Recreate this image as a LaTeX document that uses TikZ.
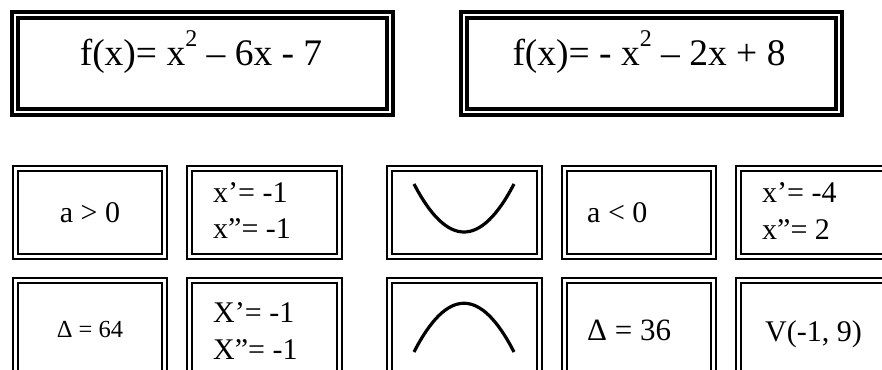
\documentclass[tikz,border=0pt]{standalone}
\usepackage{fontspec}
\setmainfont{Liberation Serif}
\begin{document}
\begin{tikzpicture}[x=1pt,y=-1pt,
  bigbox/.style={draw, double, line width=3.8pt, double distance=2.5pt, inner sep=0pt, minimum width=375pt, minimum height=97pt},
  smallbox/.style={draw, double, line width=2pt, double distance=3pt, inner sep=0pt},
  rowA/.style={smallbox, minimum height=88pt},
  rowB/.style={smallbox, minimum height=106pt},
  bigtxt/.style={inner sep=0pt, font=\fontsize{37.5}{40}\selectfont, anchor=base},
  txt/.style={inner sep=0pt, font=\fontsize{30}{33}\selectfont, anchor=base west},
  ctxt/.style={inner sep=0pt, font=\fontsize{30}{33}\selectfont, anchor=base},
  curve/.style={line width=3.2pt}]
\useasboundingbox (0,0) rectangle (882,369);
% top boxes
\node[bigbox] (f1) at (202.5,63.5) {};
\node[bigbox] (f2) at (651.5,63.5) {};
\node[bigtxt] (t1) at (201,65) {f(x)= x\raisebox{18pt}{\fontsize{24}{24}\selectfont 2} – 6x - 7};
\node[bigtxt] (t2) at (649,65) {f(x)= - x\raisebox{18pt}{\fontsize{24}{24}\selectfont 2} – 2x + 8};
% row A
\node[rowA, minimum width=149pt] (a1) at (90,212.5) {};
\node[rowA, minimum width=150pt] (a2) at (264.5,212.5) {};
\node[rowA, minimum width=150pt] (a3) at (464.5,212.5) {};
\node[rowA, minimum width=149pt] (a4) at (639,212.5) {};
\node[rowA, minimum width=150pt] (a5) at (813.5,212.5) {};
% row B
\node[rowB, minimum width=149pt] (b1) at (90,333.5) {};
\node[rowB, minimum width=150pt] (b2) at (264.5,333.5) {};
\node[rowB, minimum width=150pt] (b3) at (464.5,333.5) {};
\node[rowB, minimum width=149pt] (b4) at (639,333.5) {};
\node[rowB, minimum width=150pt] (b5) at (813.5,333.5) {};
% texts
\node[ctxt] (ta1) at (90,222) {a > 0};
\node[ctxt, font=\fontsize{24.5}{27}\selectfont] (tb1) at (90,337) {Δ = 64};
\node[txt] (ta2a) at (213,202) {x’= -1};
\node[txt] (ta2b) at (213,238) {x”= -1};
\node[txt] (tb2a) at (213,322) {X’= -1};
\node[txt] (tb2b) at (213,359) {X”= -1};
\node[txt] (ta4) at (587,222) {a < 0};
\node[txt, font=\fontsize{31}{33}\selectfont] (tb4) at (587,340) {Δ = 36};
\node[txt] (ta5a) at (762,202) {x’= -4};
\node[txt] (ta5b) at (762,239) {x”= 2};
\node[txt] (tb5) at (765,341) {V(-1, 9)};
% parabolas
\draw[curve] (414,184) .. controls (447.33,248) and (480.67,248) .. (514,184);
\draw[curve] (414,352) .. controls (447.33,287) and (480.67,287) .. (514,352);
\end{tikzpicture}
\end{document}
